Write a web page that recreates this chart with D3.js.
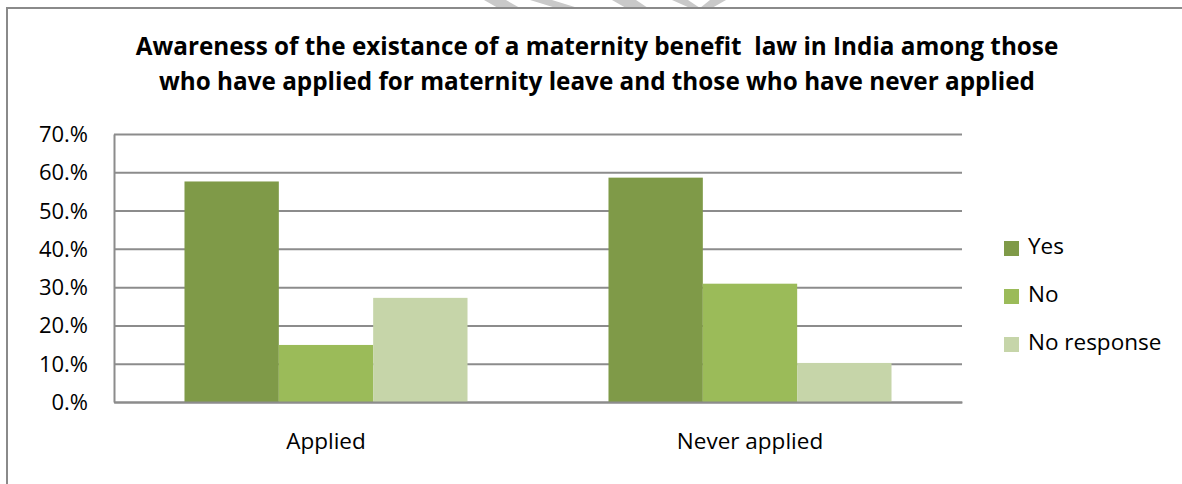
<!DOCTYPE html>
<html>
<head>
<meta charset="utf-8">
<script src="https://cdn.jsdelivr.net/npm/d3@7"></script>
<style>
  html, body { margin: 0; padding: 0; background: #fff; }
  svg { display: block; }
</style>
</head>
<body>
<script>
// ---- data ----
const titleLines = [
  "Awareness of the existance of a maternity benefit  law in India among those",
  "who have applied for maternity leave and those who have never applied"
];
const categories = ["Applied", "Never applied"];
const seriesNames = ["Yes", "No", "No response"];
const seriesColors = ["#7f9a48", "#9bbb59", "#c6d5a9"];
const yesValues = [0.576, 0.586];
const noValues = [0.149, 0.309];
const noResponseValues = [0.272, 0.102];
const tickValues = [0, 0.1, 0.2, 0.3, 0.4, 0.5, 0.6, 0.7];
const tickLabels = ["0.%", "10.%", "20.%", "30.%", "40.%", "50.%", "60.%", "70.%"];

const seriesValues = [yesValues, noValues, noResponseValues];
const rows = categories.map((c, i) => ({
  category: c,
  values: seriesNames.map((s, j) => ({ series: s, idx: j, value: seriesValues[j][i] }))
}));

// ---- layout ----
const W = 1182, H = 484;
const FONT = "'Open Sans', 'Noto Sans', sans-serif";
const plot = { left: 114, right: 962, top: 134, bottom: 402 };

const svg = d3.select("body").append("svg")
  .attr("width", W).attr("height", H)
  .style("font-family", FONT);

svg.append("rect").attr("width", W).attr("height", H).attr("fill", "#fff");

// faint watermark shapes at the top edge
const wm = svg.append("g").attr("fill", "#c9c9c9");
[[[484,0],[506,0],[520,8],[498,8]],
 [[530,0],[552,0],[578,8],[556,8]],
 [[612,0],[636,0],[648,8],[626,8]],
 [[672,0],[688,0],[700,8],[710,0],[726,0],[712,8],[690,8]]]
 .forEach(p => wm.append("polygon").attr("points", p.map(q => q.join(",")).join(" ")));

// chart frame (extends beyond right/bottom edges)
svg.append("rect")
  .attr("x", 7).attr("y", 8).attr("width", 1200).attr("height", 500)
  .attr("fill", "none").attr("stroke", "#8a8a8a").attr("stroke-width", 2);

// scales
const y = d3.scaleLinear().domain([0, 0.7]).range([plot.bottom, plot.top]);
const x0 = d3.scaleBand().domain(categories).range([plot.left, plot.right])
  .paddingInner(0.3325).paddingOuter(0.3325 / 2);
const x1 = d3.scaleBand().domain(seriesNames).range([0, x0.bandwidth()]).padding(0);
const color = d3.scaleOrdinal().domain(seriesNames).range(seriesColors);

// gridlines via axis
const grid = svg.append("g")
  .attr("transform", `translate(${plot.left},0)`)
  .call(d3.axisRight(y).tickValues(tickValues).tickSize(plot.right - plot.left).tickFormat(""));
grid.select(".domain").remove();
grid.selectAll("line").attr("stroke", "#8c8c8c").attr("stroke-width", 2);

// bars
svg.append("g").selectAll("g").data(rows).join("g")
  .attr("transform", d => `translate(${x0(d.category)},0)`)
  .selectAll("rect").data(d => d.values).join("rect")
  .attr("x", d => x1(d.series))
  .attr("width", x1.bandwidth())
  .attr("y", d => y(d.value))
  .attr("height", d => y(0) - y(d.value))
  .attr("fill", d => color(d.series));

// y axis
const yAxis = svg.append("g")
  .attr("transform", `translate(${plot.left},0)`)
  .call(d3.axisLeft(y).tickValues(tickValues).tickSize(0).tickPadding(26)
    .tickFormat((d, i) => tickLabels[i]));
yAxis.select(".domain").attr("stroke", "#8c8c8c").attr("stroke-width", 2);
yAxis.selectAll("text").attr("font-size", 22).attr("fill", "#000")
  .attr("font-family", FONT).attr("dy", "0.34em");

// x axis
const xAxis = svg.append("g")
  .attr("transform", `translate(0,${plot.bottom})`)
  .call(d3.axisBottom(x0).tickSize(0).tickPadding(31));
xAxis.select(".domain").attr("stroke", "#8c8c8c").attr("stroke-width", 2);
xAxis.selectAll("text").attr("font-size", 22.5).attr("fill", "#000")
  .attr("font-family", FONT).attr("dy", "0.71em");

// title
const title = svg.append("g");
const tl = title.selectAll("text").data(titleLines).join("text")
  .attr("x", 597).attr("y", (d, i) => 55 + i * 35)
  .attr("text-anchor", "middle")
  .attr("font-weight", "bold")
  .attr("font-size", 24)
  .attr("fill", "#000")
  .attr("xml:space", "preserve")
  .style("white-space", "pre")
  .text(d => d);
// fit title font size to the reference's line width
const w0 = tl.nodes()[0].getComputedTextLength();
tl.attr("font-size", 24 * 923 / w0);

// legend
const legend = svg.append("g").selectAll("g").data(seriesNames).join("g")
  .attr("transform", (d, i) => `translate(1004,${241 + i * 48})`);
legend.append("rect").attr("width", 15).attr("height", 15).attr("fill", d => color(d));
legend.append("text").attr("x", 24).attr("y", 13)
  .attr("font-size", 22.5).attr("fill", "#000").text(d => d);
</script>
</body>
</html>
